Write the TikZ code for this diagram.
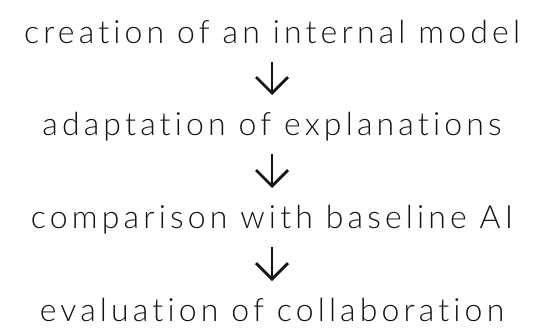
\documentclass[tikz,border=0pt]{standalone}
\usepackage{fontspec}
\setmainfont{Lato}[UprightFont={* Light}, LetterSpace=13, Ligatures={NoCommon,NoRequired,NoContextual}]
\usetikzlibrary{arrows.meta,calc}
\definecolor{ink}{HTML}{141414}
\tikzset{
  lbl/.style={inner sep=0pt, anchor=base, text=ink, font=\fontsize{32}{34}\selectfont},
  flow/.style={draw=ink, line width=2.8pt, -{Straight Barb[length=16pt, width=32pt, line width=2.8pt]}}
}
\begin{document}
\begin{tikzpicture}[x=1pt,y=1pt]
\useasboundingbox (0,0) rectangle (545,-332);
\node[lbl] (a) at (272,-43) {creation of an internal model};
\node[lbl] (b) at (272,-135) {adaptation of explanations};
\node[lbl] (c) at (272,-228) {comparison with baseline AI};
\node[lbl] (d) at (272,-321) {evaluation of collaboration};
\draw[flow] ($(a.base)+(0,-19)$) -- ($(b.base)+(0,40)$);
\draw[flow] ($(b.base)+(0,-19)$) -- ($(c.base)+(0,40)$);
\draw[flow] ($(c.base)+(0,-19)$) -- ($(d.base)+(0,40)$);
\end{tikzpicture}
\end{document}
